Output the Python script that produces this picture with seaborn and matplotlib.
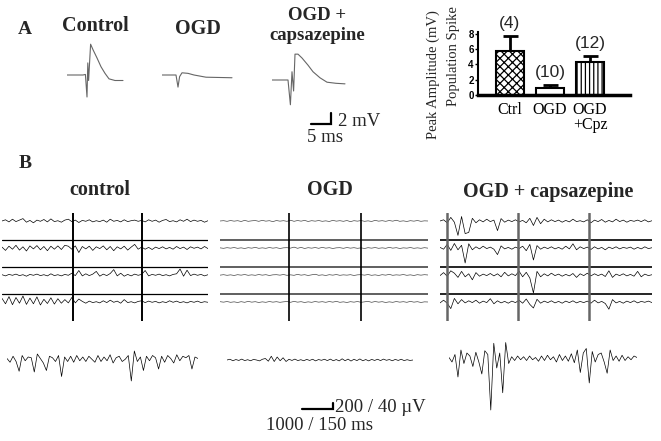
import numpy as np
import pandas as pd
import matplotlib
matplotlib.use("Agg")
import matplotlib.pyplot as plt
import seaborn as sns

# ======================= DATA =======================
# Panel A: population-spike waveforms (time in ms, amplitude in mV)
ctrl_wave_t = [0, 4.0, 4.6, 5.0, 5.2, 5.4, 5.9, 6.5, 7.5, 8.5, 9.5, 10.5, 12.0, 14.0]
ctrl_wave_mv = [0, 0, 0.1, -4.0, 2.2, -1.0, 5.6, 4.6, 3.1, 1.5, 0.3, -0.7, -1.0, -1.0]
ogd_wave_t = [0, 3.5, 4.0, 4.4, 5.0, 6.5, 8.0, 11.0, 17.5]
ogd_wave_mv = [0, 0, -2.2, -0.3, 0.4, 0.3, 0.0, -0.4, -0.5]
cpz_wave_t = [0, 4.0, 4.6, 5.0, 5.4, 5.75, 6.5, 7.5, 9.0, 10.25, 12.0, 13.75, 16.0, 18.25]
cpz_wave_mv = [0, 0, -4.5, 1.5, -2.0, 4.7, 4.7, 4.0, 2.7, 1.5, 0.4, -0.4, -0.6, -0.7]

# Panel A: bar chart of peak amplitude (mV)
groups = ["Ctrl", "OGD", "OGD\n+Cpz"]
amp_mean = [5.7, 0.9, 4.3]
amp_sem = [1.95, 0.4, 0.75]
n_labels = ["(4)", "(10)", "(12)"]
amp_ticks = [0, 2, 4, 6, 8]

# Panel B: 12-channel grids (4 rows x 3 channels each row), values in microvolts
ctrl_row1 = [0, 40, -30, 60, -20, 30, 80, -40, 20, -60, 30, -10, 50, -30, 70, -20, 10, -40, 30, 60,
             -20, 30, -50, 20, -10, 40, -30, 10, -20, 30, -40, 60, -10, 20, -30, 40, -20, 10, 30, -10,
             20, -30, 40, -10, 30, -40, 20, 50, -20, 10, -30, 40, -10, 60, -20, 30, -10, 20, -40, 10]
ctrl_row2 = [30, -80, 60, -40, 90, -70, 40, -100, 70, -30, 80, -60, 50, -90, 60, -40, 70, -50, 90, 60,
             -40, 70, -150, 50, -30, 60, -80, 40, -20, 70, -60, 50, -90, 40, -30, 60, -70, 30, 120, -40,
             30, -40, 20, -50, 30, -20, 40, -30, 20, -40, 50, -20, 30, -50, 40, -10, 30, -30, 50, -20]
ctrl_row3 = [10, -30, 20, -10, 30, -20, 10, -40, 20, -10, 30, -20, 10, -30, 40, -20, 10, -30, 20, -10,
             60, -20, 150, -30, 40, -20, 30, 120, -40, 30, -20, 50, 180, -30, 60, -40, 20, -30, 30, -10,
             20, 150, -30, 20, -10, 30, -20, 10, -30, 20, 40, 200, -40, 160, -20, 30, -10, 20, -30, 10]
ctrl_row4 = [120, -60, 180, -90, 150, -40, 200, -80, 130, -60, 170, -100, 90, -50, 140, -70, 110, -40, 80, -30,
             150, -30, 100, 20, -40, 30, -20, 10, -30, 40, -20, 60, -10, 30, -40, 80, -20, 10, -30, 20,
             40, -20, 30, -10, 20, -30, 10, -20, 40, -10, 30, -20, 10, -30, 20, -10, 30, -20, 10, -10]

ogd_row1 = [0, 10, -10, 15, -5, 10, -15, 20, -10, 5, 15, -10, 20, -5, 10, -20, 15, -5, 10, -10,
            25, -10, 15, -5, 20, -15, 10, -5, 15, -10, 5, -15, 20, -5, 10, -10, 15, -20, 10, -5,
            15, -10, 5, -15, 20, -5, 10, -10, 15, -5, 25, -10, 5, -15, 10, -5, 15, -10, 5, 0]
ogd_row2 = [5, -10, 10, -5, 15, -10, 5, -15, 10, -5, 20, -10, 5, -10, 15, -5, 10, -15, 5, 10,
            -5, 30, -10, 20, -15, 10, -5, 15, -10, 20, -5, 10, -15, 5, 10, -10, 15, -5, 10, -10,
            5, -15, 10, -5, 15, -10, 5, -10, 20, -5, 10, -15, 5, -5, 15, -10, 5, -10, 10, -5]
ogd_row3 = [-5, 10, -10, 5, -15, 10, -5, 15, -10, 5, -10, 15, -5, 10, -15, 5, 10, -5, 15, -10,
            5, -10, 20, -5, 10, -15, 5, 25, -10, 5, -15, 10, -5, 15, -10, 5, -5, 10, -15, 5,
            10, -5, 15, -10, 5, -15, 10, -5, 20, -10, 5, -5, 15, -10, 5, -15, 10, -5, 10, 0]
ogd_row4 = [10, -5, 15, -10, 5, -15, 10, -10, 20, -5, 10, -15, 5, -10, 15, -5, 10, -10, 5, 15,
            -10, 20, -5, 10, -15, 5, -10, 15, -5, 10, -10, 15, -5, 20, -10, 5, -15, 10, -5, 15,
            -10, 5, 20, -10, 15, -5, 10, -15, 5, -10, 15, -5, 10, -10, 20, -5, 10, -15, 5, 0]

cpz_row1 = [0, 40, -60, 120, -40, -480, 150, -420, -380, 90, -60, 40, -30, 60, -20, 30, -320, 80, -40, 30,
            -20, 40, -30, 20, -60, 90, -150, 120, -90, 60, -30, 40, -20, 30, -40, 20, -30, 60, -20, 10,
            -30, 40, -60, 30, -20, 50, -40, 20, -30, 60, -20, 30, -40, 20, -10, 30, -20, 40, -30, 10]
cpz_row2 = [20, -40, 120, -80, 150, -60, 90, -500, 140, -60, 40, -30, 60, -20, 30, -40, -220, 70, -30, 20,
            -40, 30, -20, 60, -90, 120, -400, 80, -40, 30, -20, 40, -30, 20, -40, 60, -30, 140, -60, 40,
            -20, 30, -50, 40, -30, 20, -60, 30, -20, 40, -30, 20, -10, 30, -40, 20, -30, 40, -20, 10]
cpz_row3 = [-20, 80, -40, 140, 60, -80, 120, -60, 40, -160, 80, -40, 30, -20, 50, -30, 40, -60, 90, -30,
            40, -20, 130, -60, 90, -100, -600, 120, -60, 40, -30, 60, -20, 30, -40, 20, -30, 50, -80, 40,
            -20, 60, -30, 40, -20, 30, -50, 140, -80, 30, -20, 40, -30, 20, -40, 120, -60, 30, -20, 10]
cpz_row4 = [-30, 60, -40, -220, 120, -60, 80, -30, 40, -20, 60, -40, 30, -20, 110, -60, 40, -30, 20, -40,
            30, -20, 60, -40, 100, -80, -200, 90, -40, 30, -20, 40, -30, 20, -40, 30, -20, 40, -30, 20,
            -20, 30, -40, 60, -30, 20, -50, -240, 80, -30, 20, -40, 30, -20, 40, -30, 20, -10, 30, -20]

# Panel B: single-channel expanded traces (microvolts)
ctrl_single = [10, -15, 25, -10, -75, 30, -5, 20, 15, -80, 40, 10, -20, -70, 25, 15, -10, 30, -110, 20,
               -10, 25, -15, 30, -5, 20, -10, 25, 5, -15, 30, -10, 20, -5, 35, -20, 15, 25, -10, 5,
               30, -140, 60, -10, 20, -70, 25, -5, 30, 15, -60, 25, -15, 30, 10, -20, 35, -5, 25, 15,
               30, -60, 20, 10]
ogd_single = [0, 5, -5, 3, -3, 6, -4, 2, -5, 4, 0, -6, 5, 10, -8, 25, -10, 20, -5, 15,
              -10, 5, -3, 6, -4, 2, -5, 4, -3, 5, -6, 3, -2, 5, -4, 6, -5, 3, -6, 8,
              -5, 6, -7, 5, -4, 7, -5, 3, -6, 4, -3, 5, -4, 6, -2, 3, -5, 4, -3, 5,
              -4, 2, -3, 0]
cpz_single = [10, -20, 30, -120, 60, -30, 40, 20, -50, 45, -20, -100, 55, 30, -340, 105, -60, 40, -225, 110,
              -30, 15, -10, 20, -5, 15, -10, 20, -5, 10, -15, 20, -10, 25, -5, 15, -20, 30, -10, 20,
              -15, 35, -25, 60, -90, 40, 70, -160, 50, -20, 30, 40, -20, -95, 60, -10, 20, -15, 25, -10,
              15, -5, 20, 10]

# scale bars
scaleA_ms, scaleA_mv = 5, 2
scaleB_ms, scaleB_uv = 150, 40

# ======================= LAYOUT / STYLE =======================
W, H = 661, 441
sns.set_theme(style="white")
plt.rcParams["font.family"] = ["Liberation Serif", "DejaVu Serif"]
plt.rcParams["hatch.linewidth"] = 0.9
SANS = ["Liberation Sans", "DejaVu Sans"]

fig = plt.figure(figsize=(W / 100, H / 100), dpi=100)
fig.patch.set_facecolor("white")


def box(left, top, width, height, off=True):
    ax = fig.add_axes([left / W, 1 - (top + height) / H, width / W, height / H])
    ax.patch.set_alpha(0)
    if off:
        ax.set_axis_off()
    return ax


def ftext(x, y, s, **kw):
    kw.setdefault("ha", "center")
    kw.setdefault("va", "center")
    fig.text(x / W, 1 - y / H, s, **kw)


# ---------- Panel A: waveforms ----------
MV_PX, MS_PX = 5.5, 4.0
for t, v, left, base in [(ctrl_wave_t, ctrl_wave_mv, 67, 75),
                         (ogd_wave_t, ogd_wave_mv, 162, 75),
                         (cpz_wave_t, cpz_wave_mv, 272, 80)]:
    ax = box(left, base - 7 * MV_PX, 20 * MS_PX, 13 * MV_PX)
    ax.set_xlim(0, 20)
    ax.set_ylim(-6, 7)
    sns.lineplot(x=t, y=v, ax=ax, color="#666666", linewidth=0.8,
                 estimator=None, sort=False)

axs = box(311, 113, scaleA_ms * MS_PX, scaleA_mv * MV_PX)
axs.set_xlim(0, scaleA_ms)
axs.set_ylim(0, scaleA_mv)
axs.plot([0, scaleA_ms, scaleA_ms], [0, 0, scaleA_mv], color="black", lw=1.6,
         clip_on=False, solid_joinstyle="miter")
ftext(338, 122, f"{scaleA_mv} mV", fontsize=13.5, ha="left")
ftext(325, 137, f"{scaleA_ms} ms", fontsize=13.5)

ftext(25, 30, "A", fontsize=14, fontweight="bold")
ftext(95, 26, "Control", fontsize=14.5, fontweight="bold")
ftext(198, 29, "OGD", fontsize=14.5, fontweight="bold")
ftext(317, 15, "OGD +", fontsize=13.5, fontweight="bold")
ftext(317, 36, "capsazepine", fontsize=13.5, fontweight="bold")

# ---------- Panel A: bar chart ----------
axb = box(478, 32, 152, 63, off=False)
df = pd.DataFrame({"group": groups, "amp": amp_mean})
sns.barplot(data=df, x="group", y="amp", ax=axb, width=0.68, color="white",
            edgecolor="black", linewidth=1.5, errorbar=None, zorder=2)
for patch, hatch in zip(axb.patches, ["xxxx", "", "||||"]):
    patch.set_hatch(hatch)
    patch.set_facecolor("white")
    patch.set_edgecolor("black")
axb.errorbar(x=np.arange(len(groups)), y=amp_mean,
             yerr=[np.zeros(len(groups)), amp_sem], fmt="none", ecolor="black",
             elinewidth=2.0, capsize=5.4, capthick=2.0, zorder=1)
for i, (m, s, lab) in enumerate(zip(amp_mean, amp_sem, n_labels)):
    axb.annotate(lab, (i, m + s), xytext=(0, 3.5), textcoords="offset points",
                 ha="center", va="bottom", fontsize=12.5, family=SANS)
axb.set_xlim(-0.8, 3.0)
axb.set_ylim(0, 8.2)
axb.set_yticks(amp_ticks)
axb.set_yticklabels([str(v) for v in amp_ticks], family=SANS, fontsize=7,
                    fontweight="bold")
axb.set_xlabel("")
axb.set_ylabel("")
for sp in ["top", "right"]:
    axb.spines[sp].set_visible(False)
axb.spines["left"].set_linewidth(1.5)
axb.spines["bottom"].set_linewidth(2.5)
axb.spines["left"].set_color("black")
axb.spines["bottom"].set_color("black")
axb.tick_params(axis="y", left=True, length=2, width=1, pad=1, colors="black")
axb.tick_params(axis="x", length=0, pad=5, labelsize=11.5, colors="black")
for lab in axb.get_xticklabels():
    lab.set_linespacing(0.95)
    lab.set_fontfamily(["Liberation Serif"])
ftext(433, 75, "Peak Amplitude (mV)", fontsize=10.5, rotation=90)
ftext(453, 56, "Population Spike", fontsize=10.5, rotation=90)

# ---------- Panel B ----------
ftext(25, 163, "B", fontsize=14, fontweight="bold")
ftext(100, 190, "control", fontsize=14.5, fontweight="bold")
ftext(330, 190, "OGD", fontsize=14.5, fontweight="bold")
ftext(548, 192, "OGD + capsazepine", fontsize=14.5, fontweight="bold")

UV_PX = 200 / 6.0        # microvolts per pixel in the grids
MSG_PX = 1000 / 31.0     # ms per pixel in the grids
ROW_UV = 27 * UV_PX
grids = [
    dict(rows=[ctrl_row1, ctrl_row2, ctrl_row3, ctrl_row4], left=2, width=206,
         cols=[71, 140], tcol="black", vcol="black", vlw=1.4, hcol="black", hlw=0.9, lw=0.5),
    dict(rows=[ogd_row1, ogd_row2, ogd_row3, ogd_row4], left=220, width=208,
         cols=[69, 141], tcol="#333333", vcol="black", vlw=1.2, hcol="#444444", hlw=1.2, lw=0.45),
    dict(rows=[cpz_row1, cpz_row2, cpz_row3, cpz_row4], left=440, width=212,
         cols=[7, 78, 149], tcol="black", vcol="#666666", vlw=1.8, hcol="black", hlw=1.2, lw=0.5),
]
for g in grids:
    ax = box(g["left"], 213, g["width"], 108)
    span = g["width"] * MSG_PX
    ax.set_xlim(0, span)
    ax.set_ylim(0, 4 * ROW_UV)
    for r, vals in enumerate(g["rows"]):
        top = (4 - r) * ROW_UV
        base = top - 8 * UV_PX
        x = np.arange(len(vals)) * span / (len(vals) - 1)
        sns.lineplot(x=x, y=np.array(vals) + base, ax=ax, color=g["tcol"],
                     linewidth=g["lw"], estimator=None, sort=False)
        if r > 0:
            ax.axhline(top, color=g["hcol"], lw=g["hlw"])
    for c in g["cols"]:
        ax.axvline(c * MSG_PX, color=g["vcol"], lw=g["vlw"])

UVS_PX = 40 / 6.0        # microvolts per pixel for single traces
MSS_PX = 150 / 31.0      # ms per pixel for single traces
for vals, left, width, base in [(ctrl_single, 7, 191, 360),
                                (ogd_single, 227, 186, 360),
                                (cpz_single, 449, 188, 359)]:
    ax = box(left, base - 30, width, 85)
    span = width * MSS_PX
    ax.set_xlim(0, span)
    ax.set_ylim(-55 * UVS_PX, 30 * UVS_PX)
    x = np.arange(len(vals)) * span / (len(vals) - 1)
    sns.lineplot(x=x, y=vals, ax=ax, color="black", linewidth=0.5,
                 estimator=None, sort=False)

axs2 = box(302, 403, 31, 6)
axs2.set_xlim(0, scaleB_ms)
axs2.set_ylim(0, scaleB_uv)
axs2.plot([0, scaleB_ms, scaleB_ms], [0, 0, scaleB_uv], color="black", lw=1.6,
          clip_on=False, solid_joinstyle="miter")
ftext(335, 407, "200 / 40 \u00b5V", fontsize=13.5, ha="left")
ftext(320, 425, "1000 / 150 ms", fontsize=13.5)

fig.savefig("out.png", dpi=100, facecolor="white")
